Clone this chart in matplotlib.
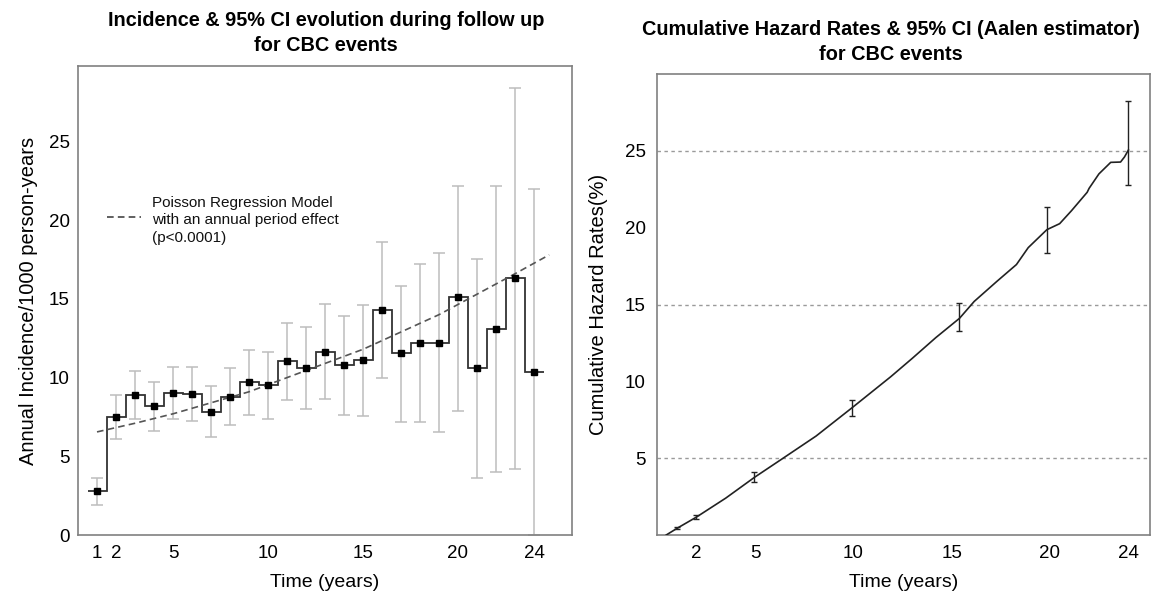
import numpy as np
import matplotlib
matplotlib.use("Agg")
import matplotlib.pyplot as plt

plt.rcParams['font.family'] = ['Liberation Sans', 'DejaVu Sans']

# ---------------- Left panel data ----------------
years = [1, 2, 3, 4, 5, 6, 7, 8, 9, 10, 11, 12, 13, 14, 15, 16, 17, 18, 19, 20, 21, 22, 23, 24]
incidence = [2.8, 7.5, 8.9, 8.2, 9.0, 8.95, 7.8, 8.8, 9.7, 9.5, 11.05, 10.6, 11.65, 10.8, 11.1,
             14.3, 11.55, 12.2, 12.2, 15.1, 10.6, 13.1, 16.3, 10.35]
ci_low = [1.9, 6.1, 7.4, 6.6, 7.4, 7.25, 6.2, 7.0, 7.6, 7.4, 8.55, 8.0, 8.65, 7.6, 7.55,
          9.95, 7.2, 7.2, 6.55, 7.9, 3.65, 4.0, 4.2, 0.0]
ci_high = [3.6, 8.9, 10.45, 9.75, 10.7, 10.7, 9.45, 10.6, 11.75, 11.6, 13.5, 13.2, 14.65, 13.9, 14.6,
           18.6, 15.85, 17.2, 17.9, 22.2, 17.55, 22.2, 28.4, 22.0]
poisson_t = [1, 3, 5, 7, 9, 11, 13, 15, 17, 19, 21, 23, 24.8]
poisson_v = [6.55, 7.1, 7.7, 8.4, 9.1, 10.0, 10.9, 11.8, 12.9, 14.0, 15.3, 16.6, 17.8]
left_xticks = [1, 2, 5, 10, 15, 20, 24]
left_yticks = [0, 5, 10, 15, 20, 25]

# ---------------- Right panel data ----------------
haz_t = [0.47, 1.04, 2.0, 3.5, 4.96, 6.4, 8.1, 9.93, 11.9, 13.0, 14.2, 15.4, 16.15, 17.3, 18.3, 18.9,
         19.85, 20.5, 21.1, 21.9, 22.0, 22.5, 22.9, 23.1, 23.6, 23.8, 24.0]
haz_v = [0.0, 0.45, 1.16, 2.4, 3.75, 4.98, 6.44, 8.28, 10.3, 11.5, 12.85, 14.1, 15.2, 16.5, 17.6, 18.7,
         19.87, 20.26, 21.1, 22.3, 22.56, 23.5, 24.0, 24.25, 24.27, 24.6, 25.05]
haz_err_t = [1.04, 2.0, 4.96, 9.93, 15.4, 19.85, 24.0]
haz_err_v = [0.45, 1.16, 3.75, 8.28, 14.1, 19.87, 25.05]
haz_err_lo = [0.37, 1.01, 3.43, 7.74, 13.3, 18.35, 22.8]
haz_err_hi = [0.54, 1.31, 4.07, 8.8, 15.1, 21.37, 28.25]
ref_lines = [5, 15, 25]
right_xticks = [2, 5, 10, 15, 20, 24]
right_yticks = [5, 10, 15, 20, 25]

W, H = 1151, 599
fig = plt.figure(figsize=(W / 100, H / 100), dpi=100)

spine_col = '#808080'

def px_axes(x0, y0, x1, y1):
    return fig.add_axes([x0 / W, 1 - y1 / H, (x1 - x0) / W, (y1 - y0) / H])

# ---------------- Left ----------------
ax1 = px_axes(78, 66, 572, 535)
yr = np.array(years, dtype=float)
inc = np.array(incidence)
lo = np.array(ci_low)
hi = np.array(ci_high)
ax1.errorbar(yr, inc, yerr=[inc - lo, hi - inc], fmt='none', ecolor='#bdbdbd',
             elinewidth=1.1, capsize=4.5, capthick=1.1, zorder=1)
edges = np.append(yr - 0.5, yr[-1] + 0.5)
ax1.stairs(inc, edges, color='#333333', linewidth=1.3, baseline=None, zorder=2)
ax1.plot(yr, inc, 's', color='black', markersize=5, zorder=4)
ax1.plot(poisson_t, poisson_v, '--', color='#555555', linewidth=1.2, dashes=(4, 2.5), zorder=3)
ax1.set_xlim(0, 26)
ax1.set_ylim(0, 29.8)
ax1.set_xticks(left_xticks)
ax1.set_yticks(left_yticks)
ax1.tick_params(length=0, labelsize=13.5, pad=7)
ax1.tick_params(axis='y', pad=6)
for s in ax1.spines.values():
    s.set_color(spine_col)
    s.set_linewidth(1.2)
ax1.set_xlabel('Time (years)', fontsize=14, labelpad=9)
ax1.set_ylabel('Annual Incidence/1000 person-years', fontsize=14.5, labelpad=8)

# legend (manual)
ax1.plot([1.5, 3.3], [20.2, 20.2], '--', color='#444444', linewidth=1.2, dashes=(4, 2.5))
ax1.text(3.9, 20.0, 'Poisson Regression Model\nwith an annual period effect\n(p<0.0001)',
         fontsize=11, va='center', ha='left', linespacing=1.3, color='#111111')

fig.text(326 / W, 1 - 33 / H, 'Incidence & 95% CI evolution during follow up\nfor CBC events',
         ha='center', va='center', fontsize=14.3, fontweight='bold', linespacing=1.35)

# ---------------- Right ----------------
ax2 = px_axes(657, 74, 1150, 535)
for r in ref_lines:
    ax2.axhline(r, color='#9a9a9a', linewidth=1.0, linestyle=(0, (2.5, 2.5)), zorder=1)
ax2.plot(haz_t, haz_v, color='#222222', linewidth=1.2, zorder=3)
et = np.array(haz_err_t)
ev = np.array(haz_err_v)
ax2.errorbar(et, ev, yerr=[ev - np.array(haz_err_lo), np.array(haz_err_hi) - ev], fmt='none',
             ecolor='#222222', elinewidth=1.0, capsize=2.5, capthick=1.0, zorder=4)
ax2.set_xlim(0, 25.1)
ax2.set_ylim(0, 30)
ax2.set_xticks(right_xticks)
ax2.set_yticks(right_yticks)
ax2.tick_params(length=0, labelsize=13.5, pad=7)
ax2.tick_params(axis='y', pad=8)
for s in ax2.spines.values():
    s.set_color(spine_col)
    s.set_linewidth(1.2)
ax2.set_xlabel('Time (years)', fontsize=14, labelpad=9)
ax2.set_ylabel('Cumulative Hazard Rates(%)', fontsize=14.5, labelpad=12)

fig.text(891 / W, 1 - 42 / H, 'Cumulative Hazard Rates & 95% CI (Aalen estimator)\nfor CBC events',
         ha='center', va='center', fontsize=14.3, fontweight='bold', linespacing=1.35)

fig.savefig('out.png', dpi=100)
